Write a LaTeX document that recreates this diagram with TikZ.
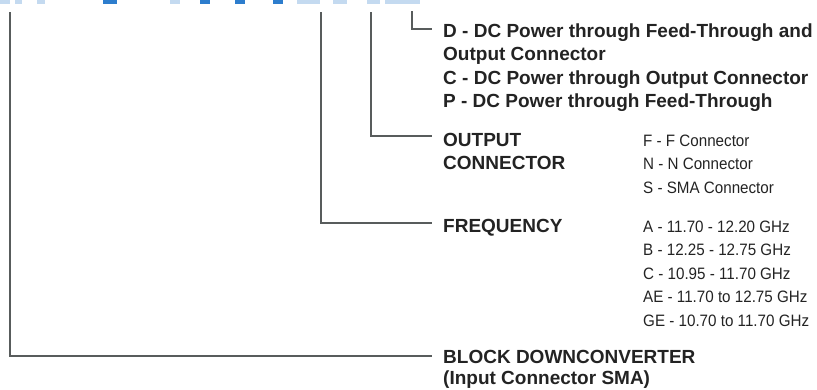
\documentclass[tikz,border=0pt]{standalone}
\usepackage{fontspec}
\setmainfont{Liberation Sans}
\newfontfamily\optfont[FakeStretch=0.92]{Liberation Sans}
\usetikzlibrary{positioning}
\definecolor{leadgrey}{RGB}{88,92,92}
\definecolor{inkdark}{RGB}{35,35,35}
\definecolor{titleblue}{RGB}{45,125,205}
\definecolor{titlepale}{RGB}{196,218,240}

\begin{document}
\begin{tikzpicture}[x=1pt, y=-1pt,
    lead/.style={draw=leadgrey, line width=1.8pt},
    key/.style={anchor=base west, inner sep=0pt, text=inkdark,
                font=\bfseries\fontsize{19}{23}\selectfont},
    opt/.style={anchor=base west, inner sep=0pt, text=inkdark,
                font=\optfont\fontsize{16.5}{23}\selectfont},
]
    \useasboundingbox (0,0) rectangle (817,389);

    % Cut-off title along the top edge
    \fill[titlepale] (0,0) rectangle (10,3.5);
    \fill[titlepale] (15,0) rectangle (22,3.5);
    \fill[titlepale] (37,0) rectangle (45,3.5);
    \fill[titleblue] (103,0) rectangle (117,3.5);
    \fill[titlepale] (170,0) rectangle (180,3.5);
    \fill[titleblue] (200,0) rectangle (210,3.5);
    \fill[titleblue] (235,0) rectangle (245,3.5);
    \fill[titleblue] (273,0) rectangle (283,3.5);
    \fill[titlepale] (297,0) rectangle (320,3.5);
    \fill[titlepale] (333,0) rectangle (347,3.5);
    \fill[titlepale] (367,0) rectangle (380,3.5);
    \fill[titlepale] (385,0) rectangle (420,3.5);

    % Top ends of the leads
    \coordinate (topBlock) at (10,12);
    \coordinate (topFreq) at (321,12);
    \coordinate (topOut) at (371,12);
    \coordinate (topDC) at (412,11);

    % DC power options
    \node[key] (keyD) at (443,37) {D - DC Power through Feed-Through and};
    \node[key] (keyDb) at (443,60.5) {Output Connector};
    \node[key] (keyC) at (443,84) {C - DC Power through Output Connector};
    \node[key] (keyP) at (443,107.5) {P - DC Power through Feed-Through};

    % Output connector
    \node[key] (keyOut) at (443,146) {OUTPUT};
    \node[key] (keyOutb) at (443,169.5) {CONNECTOR};
    \node[opt] (optF) at (643,146) {F - F Connector};
    \node[opt] (optN) at (643,169.5) {N - N Connector};
    \node[opt] (optS) at (643,193) {S - SMA Connector};

    % Frequency
    \node[key] (keyFreq) at (443,232) {FREQUENCY};
    \node[opt] (optA) at (643,232) {A - 11.70 - 12.20 GHz};
    \node[opt] (optB) at (643,255.5) {B - 12.25 - 12.75 GHz};
    \node[opt] (optC) at (643,279) {C - 10.95 - 11.70 GHz};
    \node[opt] (optAE) at (643,302.5) {AE - 11.70 to 12.75 GHz};
    \node[opt] (optGE) at (643,326) {GE - 10.70 to 11.70 GHz};

    % Block downconverter
    \node[key] (keyBlock) at (443,363) {BLOCK DOWNCONVERTER};
    \node[key] (keyBlockb) at (443,384.5) {(Input Connector SMA)};

    % Leads
    \draw[lead] (topDC) |- ([xshift=-11pt, yshift=8pt]keyD.base west);
    \draw[lead] (topOut) |- ([xshift=-11pt, yshift=10pt]keyOut.base west);
    \draw[lead] (topFreq) |- ([xshift=-11pt, yshift=9pt]keyFreq.base west);
    \draw[lead] (topBlock) |- ([xshift=-11pt, yshift=7pt]keyBlock.base west);
\end{tikzpicture}
\end{document}
